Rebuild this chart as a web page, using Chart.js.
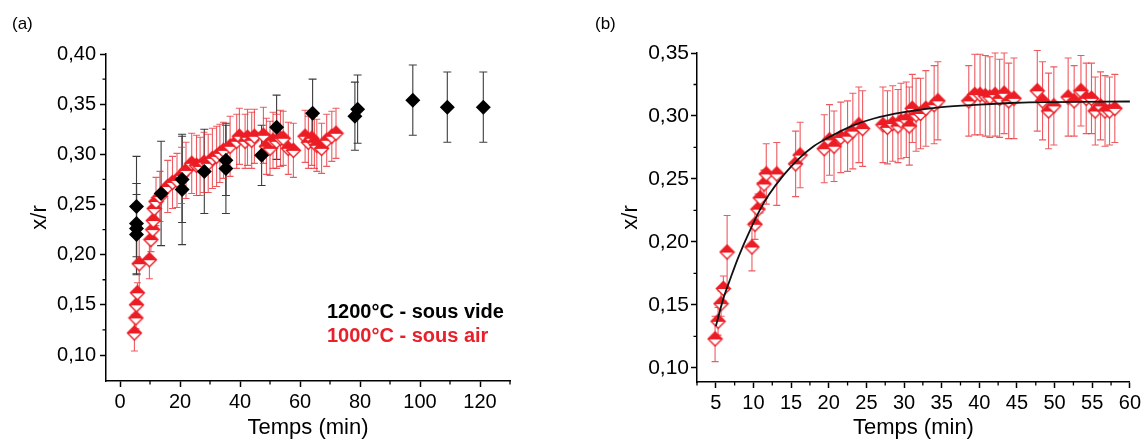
<!DOCTYPE html>
<html lang="fr">
<head>
<meta charset="UTF-8">
<title>x/r en fonction du temps</title>
<script src="https://cdn.jsdelivr.net/npm/chart.js"></script>
<style>
  body { margin: 0; background: #fff; width: 1144px; height: 441px; position: relative; overflow: hidden;
         font-family: "Liberation Sans", Arial, sans-serif; }
  .panel { position: absolute; top: 0; height: 441px; }
  #wrapA { left: 0; width: 560px; }
  #wrapB { left: 580px; width: 564px; }
  .tag { position: absolute; top: 15px; font-size: 17px; line-height: 1; color: #000; }
  .note { position: absolute; left: 327px; font-size: 20px; font-weight: bold; line-height: 1; white-space: nowrap; }
</style>
</head>
<body>
  <div class="panel" id="wrapA"><canvas id="chartA" width="560" height="441"></canvas></div>
  <div class="panel" id="wrapB"><canvas id="chartB" width="564" height="441"></canvas></div>

  <div class="tag" style="left:12px">(a)</div>
  <div class="tag" style="left:595px">(b)</div>
  <div class="note" style="top:301px; color:#000">1200°C - sous vide</div>
  <div class="note" style="top:325px; color:#e8202a">1000°C - sous air</div>

<script>
// (a) 1200°C sous vide
const vacT   = [5.5, 5.5, 5.5, 5.5, 13.7, 20.7, 20.7, 28.1, 35.3, 35.3, 47.2, 52.2, 64.2, 78.3, 79.2, 97.6, 109.1, 121.1];
const vacV   = [0.248, 0.231, 0.226, 0.220, 0.261, 0.275, 0.265, 0.283, 0.294, 0.286, 0.299, 0.327, 0.341, 0.338, 0.345, 0.354, 0.347, 0.347];
const vacErr = [0.050, 0.040, 0.045, 0.040, 0.052, 0.043, 0.055, 0.042, 0.035, 0.045, 0.030, 0.032, 0.034, 0.034, 0.034, 0.035, 0.035, 0.035];

// (a) 1000°C sous air
const airAT   = [4.8, 5.3, 5.5, 5.8, 6.4, 9.8, 10.3, 10.9, 11.1, 11.4, 12.0, 13.3, 15.9, 17.5, 19.0, 20.5, 22.0, 23.9, 25.5, 26.7,
                 28.0, 29.4, 30.8, 32.2, 33.3, 34.5, 36.7, 38.9, 39.8, 41.7, 42.5, 43.9, 44.8, 47.8, 48.8, 50.0, 51.0, 52.2, 53.5, 54.4,
                 56.1, 57.8, 61.7, 62.8, 63.9, 64.8, 65.6, 67.2, 68.9, 70.6, 72.0];
const airAV   = [0.122, 0.137, 0.150, 0.162, 0.191, 0.195, 0.215, 0.225, 0.234, 0.246, 0.253, 0.258, 0.268, 0.272, 0.274, 0.279, 0.284, 0.291, 0.289, 0.288,
                 0.292, 0.291, 0.296, 0.298, 0.301, 0.304, 0.308, 0.313, 0.318, 0.313, 0.317, 0.314, 0.318, 0.319, 0.308, 0.306, 0.314, 0.313, 0.316, 0.316,
                 0.306, 0.304, 0.318, 0.312, 0.316, 0.312, 0.309, 0.306, 0.314, 0.318, 0.321];
const airAErr = [0.018, 0.011, 0.010, 0.010, 0.029, 0.019, 0.012, 0.012, 0.012, 0.011, 0.024, 0.025, 0.026, 0.026, 0.027, 0.028, 0.028, 0.030, 0.030, 0.029,
                 0.030, 0.029, 0.030, 0.030, 0.029, 0.028, 0.030, 0.027, 0.028, 0.027, 0.028, 0.028, 0.027, 0.028, 0.028, 0.027, 0.028, 0.027, 0.028, 0.027,
                 0.026, 0.027, 0.026, 0.026, 0.027, 0.026, 0.026, 0.025, 0.026, 0.025, 0.025];

// (b) 1000°C sous air
const airBT   = [4.9, 5.3, 5.7, 6.0, 6.5, 9.8, 10.2, 10.6, 10.9, 11.4, 11.7, 13.1, 15.6, 16.2, 19.4, 20.1, 20.7, 21.6, 22.5, 23.2,
                 24.0, 24.5, 27.2, 27.8, 28.5, 29.2, 29.6, 30.3, 30.7, 31.1, 31.6, 32.2, 32.9, 34.0, 34.5, 38.6, 39.4, 40.1, 40.8, 41.4,
                 42.1, 42.7, 43.3, 43.9, 44.6, 47.7, 48.4, 49.2, 49.9, 51.8, 52.6, 53.5, 54.2, 54.9, 55.4, 56.1, 56.7, 57.3, 58.0];
const airBV   = [0.123, 0.137, 0.151, 0.163, 0.192, 0.196, 0.214, 0.226, 0.235, 0.246, 0.254, 0.254, 0.262, 0.269, 0.274, 0.281, 0.276, 0.283, 0.284, 0.288,
                 0.293, 0.290, 0.293, 0.291, 0.294, 0.292, 0.296, 0.297, 0.292, 0.306, 0.301, 0.302, 0.306, 0.309, 0.312, 0.312, 0.317, 0.317, 0.316, 0.315,
                 0.317, 0.314, 0.318, 0.312, 0.314, 0.320, 0.312, 0.304, 0.308, 0.315, 0.312, 0.320, 0.314, 0.314, 0.304, 0.308, 0.304, 0.304, 0.306];
const airBErr = [0.018, 0.011, 0.010, 0.010, 0.029, 0.019, 0.012, 0.012, 0.012, 0.011, 0.024, 0.025, 0.026, 0.026, 0.027, 0.028, 0.028, 0.028, 0.028, 0.030,
                 0.030, 0.030, 0.030, 0.029, 0.030, 0.029, 0.030, 0.030, 0.031, 0.027, 0.029, 0.028, 0.030, 0.031, 0.031, 0.028, 0.032, 0.032, 0.032, 0.032,
                 0.033, 0.031, 0.032, 0.030, 0.032, 0.032, 0.031, 0.030, 0.031, 0.031, 0.028, 0.028, 0.028, 0.028, 0.027, 0.027, 0.028, 0.027, 0.027];

// (b) fitted curve
const fitT = [5, 6, 7, 8, 9.6, 11, 12, 14, 16, 18, 20, 23, 26, 30, 35, 40, 45, 50, 60];
const fitV = [0.133, 0.155, 0.172, 0.188, 0.210, 0.227, 0.237, 0.253, 0.266, 0.276, 0.283, 0.292, 0.298, 0.303, 0.307, 0.309, 0.3105, 0.311, 0.3115];

const RED = '#ec1c24';
const FONT = '"Liberation Sans", Arial, sans-serif';

const pts = (xs, ys) => xs.map((x, i) => ({x, y: ys[i]}));

function halfDiamond(color) {
  const c = document.createElement('canvas');
  c.width = 17; c.height = 17;
  const g = c.getContext('2d');
  const m = 8.5, r = 7;
  g.beginPath();
  g.moveTo(m, m - r); g.lineTo(m + r, m); g.lineTo(m, m + r); g.lineTo(m - r, m); g.closePath();
  g.fillStyle = '#fff'; g.fill();
  g.beginPath();
  g.moveTo(m - r, m + 0.5); g.lineTo(m, m - r); g.lineTo(m + r, m + 0.5); g.closePath();
  g.fillStyle = color; g.fill();
  g.beginPath();
  g.moveTo(m, m - r); g.lineTo(m + r, m); g.lineTo(m, m + r); g.lineTo(m - r, m); g.closePath();
  g.strokeStyle = color; g.lineWidth = 1.4; g.stroke();
  return c;
}
const halfRed = halfDiamond(RED);

// vertical error bars, drawn under the markers
const errorBars = {
  id: 'errorBars',
  beforeDatasetsDraw(chart) {
    const {ctx, scales: {x, y}} = chart;
    ctx.save();
    chart.data.datasets.forEach(ds => {
      if (!ds.yErr) return;
      ctx.strokeStyle = ds.errColor;
      ctx.lineWidth = 1.1;
      const cap = ds.capHalf;
      ds.data.forEach((p, j) => {
        const px = x.getPixelForValue(p.x);
        const top = y.getPixelForValue(p.y + ds.yErr[j]);
        const bot = y.getPixelForValue(p.y - ds.yErr[j]);
        ctx.beginPath();
        ctx.moveTo(px, top); ctx.lineTo(px, bot);
        ctx.moveTo(px - cap, top); ctx.lineTo(px + cap, top);
        ctx.moveTo(px - cap, bot); ctx.lineTo(px + cap, bot);
        ctx.stroke();
      });
    });
    ctx.restore();
  }
};

// small ticks between the labelled ones
const minorTicks = {
  id: 'minorTicks',
  afterDraw(chart, args, opts) {
    const {ctx, chartArea: a, scales: {x, y}} = chart;
    ctx.save();
    ctx.strokeStyle = '#000';
    ctx.lineWidth = 1.3;
    ctx.beginPath();
    for (let i = Math.ceil(x.min / opts.x); i * opts.x <= x.max; i++) {
      if (Math.abs(i) % 2 !== 1) continue;
      const px = x.getPixelForValue(i * opts.x);
      ctx.moveTo(px, a.bottom); ctx.lineTo(px, a.bottom + 3.5);
    }
    for (let i = Math.ceil(y.min / opts.y - 1e-6); i * opts.y <= y.max + 1e-9; i++) {
      if (Math.abs(i) % 2 !== 1) continue;
      const py = y.getPixelForValue(i * opts.y);
      if (py > a.bottom - 2) continue;
      ctx.moveTo(a.left - 3.5, py); ctx.lineTo(a.left, py);
    }
    ctx.stroke();
    ctx.restore();
  }
};

function axis(min, max, step, size, pad, title, titlePad, fmt, fit) {
  return {
    type: 'linear', min, max,
    border: {color: '#000', width: 1.5},
    grid: {drawOnChartArea: false, drawTicks: true, tickLength: 6, tickWidth: 1.5, tickColor: '#000'},
    ticks: {stepSize: step, includeBounds: false, autoSkip: false, maxRotation: 0, color: '#000', padding: pad,
            font: {size, family: FONT}, callback: fmt},
    title: {display: true, text: title, color: '#000', font: {size: 22, family: FONT}, padding: titlePad},
    afterFit: fit
  };
}
const comma = v => v.toFixed(2).replace('.', ',');
const plain = v => String(v);

new Chart(document.getElementById('chartA'), {
  type: 'scatter',
  data: {
    datasets: [
      {label: '1200°C - sous vide', data: pts(vacT, vacV), yErr: vacErr, errColor: '#3c3c3c', capHalf: 4,
       pointStyle: 'rectRot', pointRadius: 7.5, backgroundColor: '#000', borderColor: '#000', borderWidth: 0},
      {label: '1000°C - sous air', data: pts(airAT, airAV), yErr: airAErr, errColor: 'rgba(232,50,58,0.8)', capHalf: 3.5,
       pointStyle: halfRed}
    ]
  },
  options: {
    responsive: false, animation: false, devicePixelRatio: 1,
    layout: {padding: {top: 54, right: 50, bottom: 0, left: 0}},
    plugins: {legend: {display: false}, tooltip: {enabled: false}, minorTicks: {x: 10, y: 0.025}},
    scales: {
      x: axis(-4.67, 130, 20, 20, 3, 'Temps (min)', {top: 0, bottom: 0}, plain, s => { s.height = 60; }),
      y: axis(0.0741, 0.40, 0.05, 20, 4, 'x/r', {top: 27, bottom: 0}, comma, s => { s.width = 106; })
    }
  },
  plugins: [errorBars, minorTicks]
});

new Chart(document.getElementById('chartB'), {
  type: 'scatter',
  data: {
    datasets: [
      {label: 'ajustement', data: pts(fitT, fitV), showLine: true, borderColor: '#111', borderWidth: 1.8,
       pointRadius: 0, cubicInterpolationMode: 'monotone', fill: false},
      {label: '1000°C - sous air', data: pts(airBT, airBV), yErr: airBErr, errColor: 'rgba(232,50,58,0.8)', capHalf: 3.5,
       pointStyle: halfRed}
    ]
  },
  options: {
    responsive: false, animation: false, devicePixelRatio: 1,
    layout: {padding: {top: 53, right: 11, bottom: 0, left: 0}},
    plugins: {legend: {display: false}, tooltip: {enabled: false}, minorTicks: {x: 2.5, y: 0.025}},
    scales: {
      x: axis(2.5, 60, 5, 20, 3, 'Temps (min)', {top: 0, bottom: 0}, plain, s => { s.height = 59; }),
      y: axis(0.0888, 0.35, 0.05, 21, 2, 'x/r', {top: 38, bottom: 0}, comma, s => { s.width = 117; })
    }
  },
  plugins: [errorBars, minorTicks]
});
</script>
</body>
</html>
